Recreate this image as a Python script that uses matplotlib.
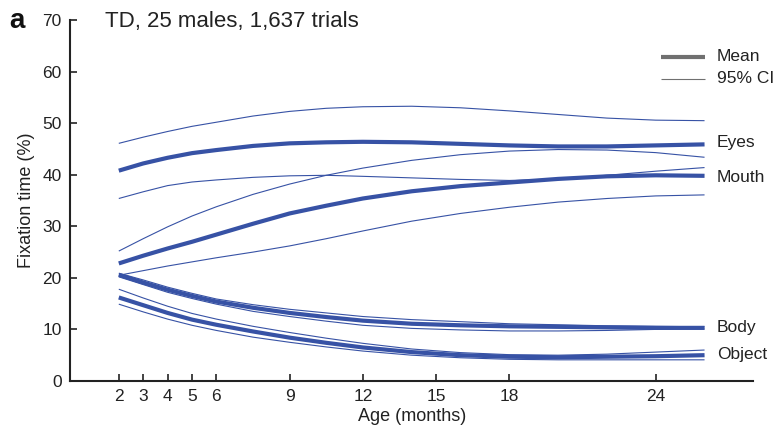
import matplotlib
matplotlib.use("Agg")
import matplotlib.pyplot as plt

plt.rcParams['font.family'] = ['Liberation Sans', 'DejaVu Sans']

months = [2, 3, 4, 5, 6, 7.5, 9, 10.5, 12, 14, 16, 18, 20, 22, 24, 26]

eyes_mean = [40.8, 42.2, 43.3, 44.2, 44.8, 45.6, 46.1, 46.3, 46.4, 46.3, 46.0, 45.7, 45.5, 45.5, 45.7, 45.9]
eyes_hi = [46.1, 47.3, 48.4, 49.4, 50.2, 51.4, 52.3, 52.9, 53.2, 53.3, 53.0, 52.4, 51.7, 51.0, 50.6, 50.5]
eyes_lo = [35.4, 36.7, 37.9, 38.6, 39.0, 39.5, 39.8, 39.9, 39.7, 39.4, 39.1, 38.9, 39.2, 39.9, 40.7, 41.4]

mouth_mean = [22.8, 24.3, 25.7, 27.0, 28.4, 30.5, 32.5, 34.0, 35.4, 36.8, 37.8, 38.5, 39.2, 39.7, 39.9, 39.8]
mouth_hi = [25.2, 27.6, 29.9, 32.0, 33.8, 36.2, 38.2, 39.9, 41.3, 42.8, 43.9, 44.6, 44.9, 44.8, 44.3, 43.4]
mouth_lo = [20.5, 21.4, 22.3, 23.1, 23.9, 25.0, 26.2, 27.6, 29.1, 31.0, 32.5, 33.7, 34.7, 35.4, 35.9, 36.1]

body_mean = [20.6, 19.1, 17.7, 16.5, 15.4, 14.2, 13.2, 12.4, 11.7, 11.1, 10.8, 10.6, 10.5, 10.4, 10.3, 10.3]
body_hi = [20.9, 19.6, 18.2, 17.0, 15.9, 14.8, 13.9, 13.2, 12.5, 11.9, 11.5, 11.1, 10.9, 10.7, 10.6, 10.5]
body_lo = [20.2, 18.7, 17.2, 16.0, 14.9, 13.5, 12.5, 11.6, 10.8, 10.2, 9.9, 9.7, 9.7, 9.8, 10.0, 10.1]

object_mean = [16.2, 14.7, 13.2, 11.9, 10.9, 9.6, 8.4, 7.4, 6.5, 5.6, 5.0, 4.7, 4.6, 4.7, 4.8, 5.0]
object_hi = [17.8, 16.1, 14.5, 13.1, 12.0, 10.6, 9.4, 8.3, 7.3, 6.2, 5.5, 5.1, 5.0, 5.2, 5.6, 6.0]
object_lo = [14.9, 13.4, 12.0, 10.8, 9.8, 8.5, 7.5, 6.6, 5.8, 5.0, 4.5, 4.2, 4.1, 4.1, 4.1, 4.1]

series = [
    ("Eyes", eyes_mean, eyes_hi, eyes_lo, 46.2),
    ("Mouth", mouth_mean, mouth_hi, mouth_lo, 39.4),
    ("Body", body_mean, body_hi, body_lo, 10.4),
    ("Object", object_mean, object_hi, object_lo, 5.2),
]

xticks = [2, 3, 4, 5, 6, 9, 12, 15, 18, 24]
yticks = [0, 10, 20, 30, 40, 50, 60, 70]

blue = '#3752a5'
ink = '#222222'
fig = plt.figure(figsize=(7.81, 4.29), dpi=100)
ax = fig.add_axes([0.0896, 0.112, 0.875, 0.841])

for name, m, hi, lo, ly in series:
    ax.plot(months, hi, color=blue, lw=0.8, solid_capstyle='butt')
    ax.plot(months, lo, color=blue, lw=0.8, solid_capstyle='butt')
    ax.plot(months, m, color=blue, lw=3.0, solid_capstyle='butt')
    ax.text(26.5, ly, name, fontsize=12.5, va='center', ha='left', color=ink)

# legend
ax.plot([24.2, 26.0], [62.8, 62.8], color='#707070', lw=3.0, solid_capstyle='butt', clip_on=False)
ax.plot([24.2, 26.0], [58.6, 58.6], color='#707070', lw=0.8, solid_capstyle='butt', clip_on=False)
ax.text(26.5, 63.0, "Mean", fontsize=12.5, va='center', ha='left', color=ink)
ax.text(26.5, 58.6, "95% CI", fontsize=12.5, va='center', ha='left', color=ink)

ax.set_xlim(0, 28)
ax.set_ylim(0, 70)
ax.set_xticks(xticks)
ax.set_yticks(yticks)
ax.tick_params(direction='in', length=5, width=1.2, labelsize=12.5, colors=ink, pad=6)
for s in ['top', 'right']:
    ax.spines[s].set_visible(False)
for s in ['left', 'bottom']:
    ax.spines[s].set_linewidth(1.5)
    ax.spines[s].set_color(ink)

ax.set_xlabel("Age (months)", fontsize=13, color=ink, labelpad=3)
ax.set_ylabel("Fixation time (%)", fontsize=13, color=ink, labelpad=5)

fig.text(0.134, 0.951, "TD, 25 males, 1,637 trials", fontsize=16, va='center', ha='left', color=ink)
fig.text(0.012, 0.950, "a", fontsize=20, fontweight='bold', va='center', ha='left', color='#111111')

fig.savefig("out.png", dpi=100)
